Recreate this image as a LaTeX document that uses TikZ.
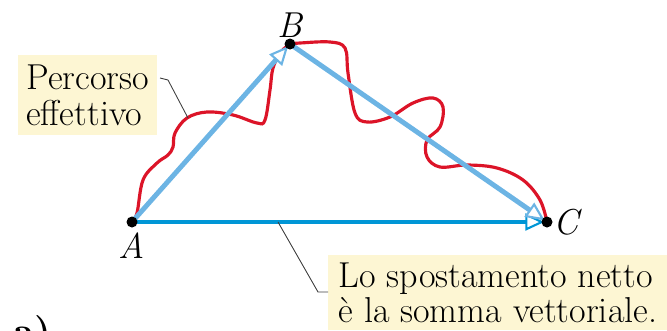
\documentclass[tikz,border=0pt]{standalone}
\usepackage{tikz}
\usetikzlibrary{arrows.meta,positioning,calc}
\definecolor{celeste}{HTML}{6CB4E4}
\definecolor{blu}{HTML}{0096D6}
\definecolor{rosso}{HTML}{DC1428}
\definecolor{giallino}{HTML}{FDF6D3}
\begin{document}
\begin{tikzpicture}[font=\fontsize{20.5}{20}\selectfont]
\useasboundingbox (0,0) rectangle (13.34,6.6);
\tikzstyle{punto}=[circle,fill=black,inner sep=0pt,minimum size=0.22cm]
\tikzstyle{vett}=[line width=2.8pt,-{Triangle[length=3.8mm,width=3.4mm,fill=white,line width=1.2pt]},shorten >=1.5pt]
\tikzstyle{etich}=[fill=giallino,inner xsep=0.16cm,inner ysep=0.06cm,align=left]
\tikzstyle{guida}=[draw=black!75,line width=0.5pt]
\coordinate (A) at (2.64,2.16);
\coordinate (B) at (5.80,5.72);
\coordinate (C) at (10.94,2.16);
% percorso effettivo
\draw[rosso,line width=1.8pt,line cap=round] plot[smooth,tension=0.6] coordinates {(2.64,2.16) (2.74,2.34) (2.86,3.00) (3.14,3.34) (3.36,3.50) (3.46,3.66) (3.50,3.94) (3.74,4.24) (4.14,4.36) (4.66,4.30) (5.14,4.14) (5.30,4.20) (5.40,4.80) (5.46,5.24) (5.62,5.56) (5.80,5.72)};
\draw[rosso,line width=1.8pt,line cap=round] plot[smooth,tension=0.6] coordinates {(5.80,5.72) (6.00,5.74) (6.60,5.76) (6.90,5.64) (6.96,5.14) (7.10,4.34) (7.34,4.16) (7.80,4.26) (8.26,4.54) (8.66,4.64) (8.86,4.46) (8.80,4.06) (8.54,3.80) (8.54,3.46) (8.80,3.26) (9.34,3.30) (9.94,3.24) (10.46,3.00) (10.80,2.60) (10.94,2.16)};
% vettori
\draw[vett,blu] (A) -- (C);
\draw[vett,celeste] (A) -- (B);
\draw[vett,celeste] (B) -- (C);
\node[punto] (pA) at (A) {};
\node[punto] (pB) at (B) {};
\node[punto] (pC) at (C) {};
\node[below=-1pt of pA] (lA) {\itshape A};
\node[above=-3pt of pB] (lB) {\itshape B};
\node[right=-3pt of pC] (lC) {\itshape C};
% etichette
\node[etich,minimum width=2.74cm,minimum height=1.6cm,anchor=north west] (perc) at (0.36,5.5) {Percorso\\effettivo};
\node[etich,minimum width=6.78cm,minimum height=1.5cm,anchor=north west] (netto) at (6.56,1.5) {Lo spostamento netto\\è la somma vettoriale.};
\coordinate (g1) at (3.20,5.04);
\coordinate (g2) at (3.36,5.00);
\coordinate (g3) at (3.76,4.24);
\coordinate (h1) at (5.56,2.16);
\coordinate (h2) at (6.36,0.76);
\draw[guida] (g1) -- (g2) -- (g3);
\draw[guida] (h1) -- (h2) -- (netto.west |- h2);
\node[font=\fontsize{22}{20}\selectfont\bfseries,anchor=base west] (lett) at (0.14,-0.28) {a)};
\end{tikzpicture}
\end{document}
